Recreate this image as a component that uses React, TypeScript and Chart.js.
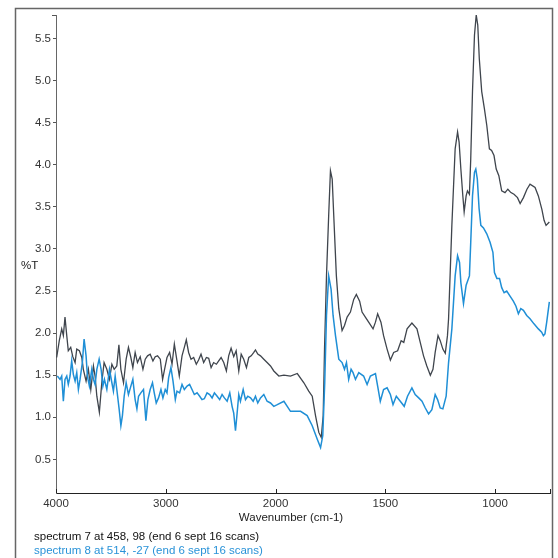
import React, { useEffect, useRef } from 'react';
import { Chart, registerables, LinearScale } from 'chart.js';

// ---- data (wavenumber cm-1 / %T) ----
const spectrum7Wavenumbers = [
  3994, 3970, 3948, 3933, 3918, 3902, 3888, 3866, 3847, 3826,
  3811, 3787, 3765, 3751, 3726, 3705, 3683, 3659, 3644, 3628,
  3605, 3583, 3562, 3537, 3513, 3491, 3470, 3446, 3427, 3409,
  3385, 3361, 3340, 3318, 3300, 3279, 3258, 3233, 3208, 3187,
  3166, 3142, 3117, 3096, 3075, 3050, 3029, 3011, 2989, 2965,
  2943, 2922, 2898, 2877, 2852, 2831, 2813, 2792, 2770, 2746,
  2722, 2701, 2679, 2655, 2630, 2609, 2587, 2564, 2539, 2518,
  2496, 2472, 2448, 2427, 2405, 2381, 2359, 2335, 2313, 2290,
  2265, 2244, 2222, 2198, 2183, 2162, 2137, 2107, 2077, 2046,
  2016, 1985, 1962, 1932, 1901, 1871, 1849, 1833, 1818, 1803,
  1792, 1783, 1777, 1768, 1758, 1750, 1742, 1735, 1723, 1712,
  1697, 1686, 1674, 1659, 1644, 1632, 1617, 1606, 1591, 1576,
  1556, 1545, 1535, 1520, 1508, 1492, 1477, 1462, 1444, 1428,
  1416, 1401, 1379, 1356, 1341, 1326, 1311, 1295, 1283, 1273,
  1260, 1250, 1238, 1227, 1217, 1212, 1197, 1182, 1171, 1164,
  1156, 1147, 1141, 1132, 1126, 1117, 1111, 1103, 1094, 1086,
  1079, 1072, 1061, 1049, 1038, 1026, 1016, 1005, 995, 983,
  970, 955, 942, 928, 914, 898, 886, 871, 855, 841,
  818, 803, 787, 777, 768, 753,
];
const spectrum7Values = [
  1.71, 1.91, 2.05, 1.97, 2.19, 1.97, 1.79, 1.83, 1.72, 1.65,
  1.81, 1.79, 1.71, 1.57, 1.43, 1.57, 1.33, 1.61, 1.49, 1.25,
  1.06, 1.41, 1.65, 1.57, 1.45, 1.63, 1.57, 1.61, 1.86, 1.57,
  1.41, 1.69, 1.83, 1.71, 1.59, 1.77, 1.65, 1.72, 1.57, 1.69,
  1.73, 1.75, 1.67, 1.72, 1.73, 1.69, 1.45, 1.57, 1.71, 1.77,
  1.63, 1.87, 1.67, 1.49, 1.73, 1.83, 1.92, 1.77, 1.69, 1.71,
  1.63, 1.68, 1.75, 1.65, 1.71, 1.70, 1.59, 1.65, 1.63, 1.67,
  1.71, 1.65, 1.55, 1.73, 1.82, 1.72, 1.79, 1.55, 1.75, 1.69,
  1.59, 1.71, 1.73, 1.77, 1.80, 1.75, 1.73, 1.69, 1.65, 1.61,
  1.55, 1.49, 1.50, 1.49, 1.52, 1.41, 1.31, 1.25, 1.02, 0.82,
  0.76, 1.02, 1.81, 2.68, 3.40, 3.93, 3.83, 3.40, 2.68, 2.29,
  2.03, 2.09, 2.19, 2.25, 2.40, 2.46, 2.38, 2.25, 2.19, 2.13,
  2.05, 2.13, 2.23, 2.13, 1.97, 1.81, 1.68, 1.77, 1.79, 1.91,
  1.89, 2.05, 2.12, 2.05, 1.89, 1.73, 1.61, 1.50, 1.57, 1.77,
  1.97, 1.91, 1.81, 1.76, 1.97, 2.17, 3.28, 4.19, 4.39, 4.27,
  3.95, 3.63, 3.44, 3.63, 3.69, 3.65, 4.07, 4.87, 5.54, 5.78,
  5.66, 5.26, 4.87, 4.67, 4.47, 4.19, 4.17, 4.11, 3.95, 3.87,
  3.69, 3.67, 3.71, 3.67, 3.65, 3.61, 3.54, 3.61, 3.71, 3.77,
  3.73, 3.63, 3.47, 3.34, 3.28, 3.32,
];

const spectrum8Wavenumbers = [
  3988, 3963, 3948, 3933, 3918, 3902, 3888, 3872, 3857, 3842,
  3826, 3811, 3796, 3781, 3760, 3744, 3726, 3714, 3696, 3674,
  3659, 3644, 3628, 3607, 3589, 3573, 3559, 3537, 3513, 3491,
  3477, 3461, 3446, 3425, 3409, 3395, 3379, 3361, 3340, 3318,
  3300, 3279, 3263, 3248, 3227, 3203, 3181, 3163, 3142, 3121,
  3105, 3087, 3066, 3044, 3026, 3005, 2989, 2974, 2953, 2934,
  2913, 2898, 2874, 2852, 2831, 2806, 2783, 2761, 2740, 2715,
  2691, 2670, 2649, 2624, 2600, 2578, 2557, 2532, 2509, 2487,
  2466, 2441, 2417, 2396, 2381, 2365, 2350, 2335, 2320, 2295,
  2274, 2253, 2228, 2204, 2183, 2162, 2137, 2107, 2077, 2046,
  2016, 1992, 1962, 1932, 1886, 1856, 1833, 1810, 1795, 1785,
  1776, 1768, 1758, 1747, 1738, 1727, 1712, 1697, 1686, 1677,
  1667, 1656, 1647, 1636, 1621, 1599, 1583, 1568, 1545, 1535,
  1523, 1508, 1492, 1477, 1465, 1450, 1432, 1414, 1399, 1379,
  1364, 1348, 1333, 1318, 1303, 1288, 1273, 1262, 1250, 1238,
  1223, 1212, 1197, 1182, 1171, 1162, 1156, 1144, 1132, 1117,
  1111, 1103, 1094, 1088, 1081, 1073, 1065, 1053, 1038, 1023,
  1010, 1003, 992, 980, 970, 959, 947, 932, 917, 905,
  894, 883, 871, 856, 841, 823, 803, 788, 780, 773,
  765, 753,
];
const spectrum8Values = [
  1.49, 1.45, 1.49, 1.19, 1.45, 1.49, 1.39, 1.49, 1.67, 1.51,
  1.43, 1.53, 1.33, 1.45, 1.65, 1.93, 1.73, 1.49, 1.37, 1.57,
  1.45, 1.39, 1.57, 1.69, 1.57, 1.37, 1.45, 1.33, 1.57, 1.41,
  1.31, 1.49, 1.33, 1.10, 0.90, 1.02, 1.25, 1.41, 1.27, 1.37,
  1.45, 1.21, 1.10, 1.25, 1.29, 1.33, 0.96, 1.21, 1.33, 1.41,
  1.29, 1.17, 1.23, 1.33, 1.23, 1.33, 1.29, 1.47, 1.59, 1.43,
  1.21, 1.31, 1.29, 1.39, 1.33, 1.37, 1.39, 1.33, 1.27, 1.29,
  1.25, 1.21, 1.22, 1.29, 1.27, 1.23, 1.29, 1.25, 1.21, 1.27,
  1.23, 1.19, 1.29, 1.13, 1.05, 0.84, 1.05, 1.27, 1.19, 1.33,
  1.21, 1.25, 1.23, 1.19, 1.25, 1.17, 1.23, 1.27, 1.19, 1.17,
  1.13, 1.15, 1.19, 1.07, 1.07, 1.02, 0.90, 0.74, 0.64, 0.78,
  1.41, 2.21, 2.68, 2.52, 2.21, 1.97, 1.69, 1.65, 1.57, 1.65,
  1.45, 1.57, 1.53, 1.45, 1.53, 1.49, 1.39, 1.49, 1.52, 1.37,
  1.19, 1.33, 1.35, 1.27, 1.15, 1.25, 1.19, 1.13, 1.25, 1.35,
  1.27, 1.23, 1.19, 1.11, 1.04, 1.09, 1.27, 1.21, 1.11, 1.10,
  1.25, 1.65, 2.05, 2.68, 2.92, 2.84, 2.60, 2.35, 2.57, 2.68,
  3.08, 3.63, 3.91, 3.95, 3.83, 3.48, 3.28, 3.25, 3.18, 3.08,
  2.96, 2.72, 2.65, 2.65, 2.54, 2.48, 2.50, 2.44, 2.38, 2.32,
  2.23, 2.29, 2.27, 2.21, 2.17, 2.11, 2.05, 2.01, 1.97, 1.99,
  2.13, 2.37,
];

const xTickValues = [4000, 3000, 2000, 1500, 1000];
const yTickValues = [0.5, 1.0, 1.5, 2.0, 2.5, 3.0, 3.5, 4.0, 4.5, 5.0, 5.5];
const legendLines = [
  'spectrum 7 at 458, 98 (end 6 sept 16 scans)',
  'spectrum 8 at 514, -27 (end 6 sept 16 scans)',
];
const xTitle = 'Wavenumber (cm-1)';
const yTitle = '%T';

// ---- split wavenumber axis: region above 2000 cm-1 is compressed 2x ----
const BREAK = 2000;
const squeeze = (v: number) => (v > BREAK ? BREAK + (v - BREAK) / 2 : v);
const unsqueeze = (t: number) => (t > BREAK ? BREAK + (t - BREAK) * 2 : t);

class SplitWavenumberScale extends LinearScale {
  static id = 'splitWavenumber';
  getPixelForValue(value: number) {
    const a = squeeze(this.min);
    const b = squeeze(this.max);
    return this.getPixelForDecimal((squeeze(value) - a) / (b - a));
  }
  getValueForPixel(pixel: number) {
    const a = squeeze(this.min);
    const b = squeeze(this.max);
    return unsqueeze(a + this.getDecimalForPixel(pixel) * (b - a));
  }
}

Chart.register(...registerables, SplitWavenumberScale);

const FONT_FAMILY = '"Liberation Sans", Arial, sans-serif';
const FONT_SIZE = 11.5;
const GRAY = '#3f454d';
const BLUE = '#1f8fd6';

const decorPlugin = {
  id: 'decor',
  beforeDraw(chart: any) {
    const ctx = chart.ctx;
    ctx.save();
    ctx.fillStyle = '#ffffff';
    ctx.fillRect(0, 0, chart.width, chart.height);
    ctx.strokeStyle = '#666666';
    ctx.lineWidth = 1.5;
    ctx.strokeRect(15.5, 8.5, 537, 600);
    ctx.restore();
  },
  afterDraw(chart: any) {
    const ctx = chart.ctx;
    const { left, top, bottom } = chart.chartArea;
    const xs = chart.scales.x;
    ctx.save();
    ctx.strokeStyle = '#222222';
    ctx.lineWidth = 1;
    ctx.beginPath();
    const marks = [...xTickValues, xs.min];
    for (const v of marks) {
      const px = Math.round(xs.getPixelForValue(v)) + 0.5;
      ctx.moveTo(px, bottom);
      ctx.lineTo(px, bottom - 4);
    }
    ctx.stroke();
    ctx.strokeStyle = '#555555';
    ctx.beginPath();
    ctx.moveTo(left - 4, Math.round(top) + 0.5);
    ctx.lineTo(left, Math.round(top) + 0.5);
    ctx.stroke();

    ctx.font = `${FONT_SIZE}px ${FONT_FAMILY}`;
    ctx.textBaseline = 'middle';
    ctx.fillStyle = '#222222';
    ctx.textAlign = 'left';
    ctx.fillText(yTitle, 21, 266);
    ctx.textAlign = 'center';
    ctx.fillText(xTitle, 291, 518);
    ctx.textAlign = 'left';
    ctx.fillStyle = '#111111';
    ctx.fillText(legendLines[0], 34, 537);
    ctx.fillStyle = '#2a93d8';
    ctx.fillText(legendLines[1], 34, 551);
    ctx.restore();
  },
};

export default function App() {
  const canvasRef = useRef<HTMLCanvasElement | null>(null);

  useEffect(() => {
    const canvas = canvasRef.current;
    if (!canvas) return;
    const font = { family: FONT_FAMILY, size: FONT_SIZE };
    const chart = new Chart(canvas, {
      type: 'line',
      data: {
        datasets: [
          {
            label: legendLines[0],
            data: spectrum7Wavenumbers.map((x, i) => ({ x, y: spectrum7Values[i] })),
            borderColor: GRAY,
            backgroundColor: GRAY,
            borderWidth: 1.3,
            pointRadius: 0,
            tension: 0,
            order: 2,
          },
          {
            label: legendLines[1],
            data: spectrum8Wavenumbers.map((x, i) => ({ x, y: spectrum8Values[i] })),
            borderColor: BLUE,
            backgroundColor: BLUE,
            borderWidth: 1.5,
            pointRadius: 0,
            tension: 0,
            order: 1,
          },
        ],
      },
      options: {
        animation: false,
        responsive: false,
        maintainAspectRatio: false,
        parsing: true,
        layout: { padding: { left: 0, top: 15, right: 8, bottom: 0 } },
        plugins: {
          legend: { display: false },
          tooltip: { enabled: false },
          title: { display: false },
        },
        scales: {
          x: {
            type: 'splitWavenumber' as any,
            min: 750,
            max: 4000,
            reverse: true,
            afterBuildTicks: (scale: any) => {
              scale.ticks = xTickValues.map((value) => ({ value }));
            },
            afterFit: (scale: any) => {
              scale.height = 65;
            },
            grid: { display: false, drawTicks: false },
            border: { display: true, color: '#222222', width: 1 },
            ticks: {
              autoSkip: false,
              maxRotation: 0,
              padding: 4,
              color: '#333333',
              font,
              callback: (v: any) => String(v),
            },
          },
          y: {
            type: 'linear',
            min: 0.1,
            max: 5.78,
            afterBuildTicks: (scale: any) => {
              scale.ticks = yTickValues.map((value) => ({ value }));
            },
            afterFit: (scale: any) => {
              scale.width = 56;
            },
            grid: { drawOnChartArea: false, drawTicks: true, tickLength: 3, color: '#555555' },
            border: { display: true, color: '#666666', width: 1 },
            ticks: {
              padding: 2,
              color: '#333333',
              font,
              callback: (v: any) => Number(v).toFixed(1),
            },
          },
        },
      },
      plugins: [decorPlugin],
    } as any);
    return () => chart.destroy();
  }, []);

  return (
    <div style={{ position: 'fixed', left: 0, top: 0, width: 558, height: 558, background: '#fff' }}>
      <canvas ref={canvasRef} width={558} height={558} style={{ display: 'block', width: 558, height: 558 }} />
    </div>
  );
}
